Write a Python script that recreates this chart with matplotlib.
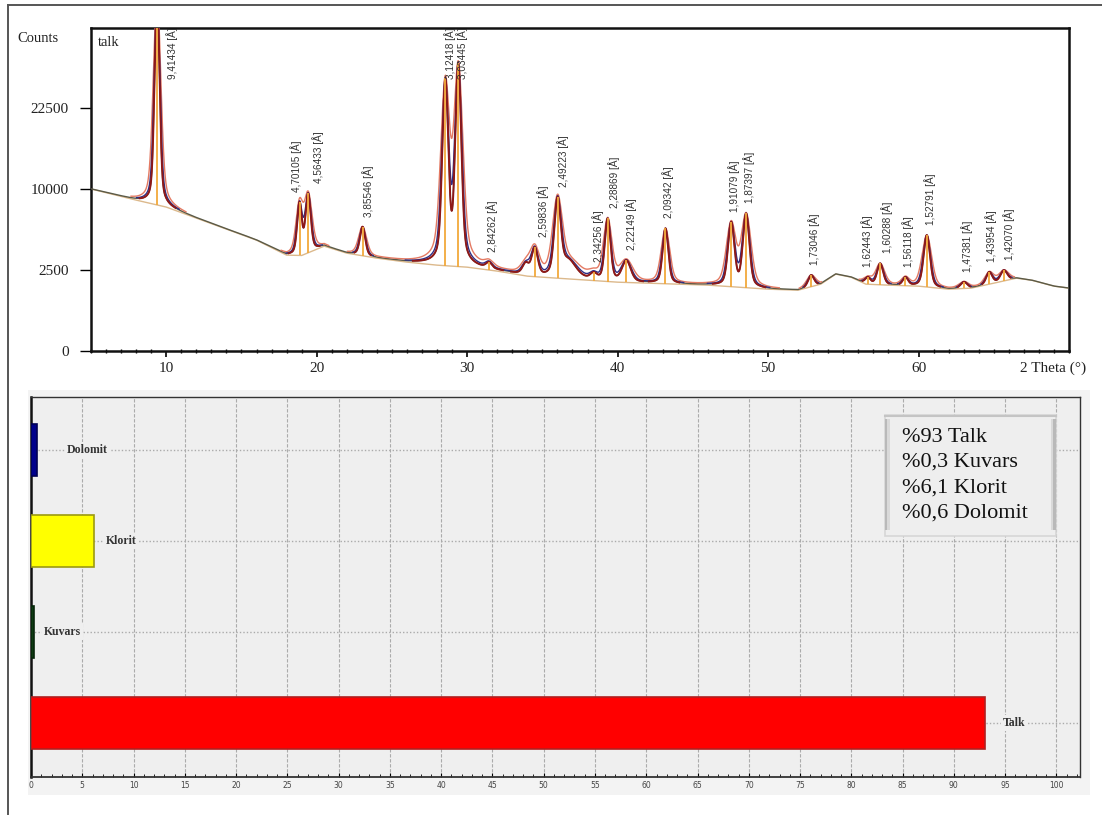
import numpy as np
import matplotlib
matplotlib.use('Agg')
import matplotlib.pyplot as plt
from matplotlib.patches import Rectangle
from matplotlib.lines import Line2D
from matplotlib.ticker import MultipleLocator, FixedLocator

# ---------------- data: XRD pattern (top panel) ----------------
bg_theta = [5, 8, 10, 12, 14, 16, 18, 19, 20.5, 22, 24, 26, 28, 30, 32, 34, 36, 38,
            40, 42, 44, 46, 48, 50, 52, 53.5, 54.5, 55.5, 56.5, 58, 60, 62, 63.5, 65,
            66.5, 67.5, 69, 70]
bg_counts = [9950, 8630, 7850, 6690, 5625, 4650, 3475, 3450, 4160, 3620, 3260, 2985,
             2785, 2655, 2410, 2115, 2000, 1893, 1787, 1735, 1685, 1635, 1537, 1440,
             1394, 1685, 2230, 2060, 1685, 1635, 1585, 1440, 1490, 1735, 2000, 1893,
             1585, 1490]

peak_theta = [9.39, 18.86, 19.43, 23.05, 28.55, 29.41, 31.45, 33.90, 34.49, 36.01, 36.70,
              38.40, 39.34, 40.58, 43.18, 47.55, 48.54, 52.86, 56.62, 57.45, 59.13,
              60.55, 63.02, 64.70, 65.67]
peak_top = [48000, 8440, 9450, 5840, 28230, 31430, 3005, 3000, 4100, 9010, 3300,
            2365, 6660, 3120, 5690, 6320, 7170, 2172, 2075, 2896, 2070,
            5080, 1805, 2365, 2470]
peak_fwhm = [0.34, 0.34, 0.38, 0.40, 0.40, 0.40, 0.45, 0.50, 0.45, 0.45, 1.20,
             0.50, 0.40, 0.65, 0.40, 0.45, 0.45, 0.45, 0.40, 0.45, 0.40,
             0.45, 0.50, 0.45, 0.50]
peak_labels = ["9,41434 [Å]", "4,70105 [Å]", "4,56433 [Å]", "3,85546 [Å]", "3,12418 [Å]",
               "3,03445 [Å]", "2,84262 [Å]", "", "2,59836 [Å]", "2,49223 [Å]", "",
               "2,34256 [Å]", "2,28869 [Å]", "2,22149 [Å]", "2,09342 [Å]", "1,91079 [Å]",
               "1,87397 [Å]", "1,73046 [Å]", "1,62443 [Å]", "1,60288 [Å]", "1,56118 [Å]",
               "1,52791 [Å]", "1,47381 [Å]", "1,43954 [Å]", "1,42070 [Å]"]
yticks_counts = [0, 2500, 10000, 22500]
xticks_theta = [10, 20, 30, 40, 50, 60]

# ---------------- data: phase amounts (bottom panel) ----------------
phases = ["Talk", "Kuvars", "Klorit", "Dolomit"]
percent = [93, 0.3, 6.1, 0.6]

# ---------------- styles ----------------
label_dx_px = [15, -3, 10, 5, 5, 4, 3, 0, 8, 5, 0, 5, 6, 5, 3, 3, 3, 3, -1, 7, 3, 3, 3, 2, 5]
bar_face = ["#ff0000", "#0d3b12", "#ffff00", "#00008b"]
bar_edge = ["#b02020", "#06260a", "#9c9a10", "#000055"]
label_offset_px = [18, 10, 12, 30]
SERIF = "Liberation Serif"
SANS = "Liberation Sans"

fig = plt.figure(figsize=(11.02, 8.21), dpi=100)
W, H = 1102.0, 821.0


def fx(px):
    return px / W


def fy(py):
    return 1 - py / H


# outer border (top + left)
fig.add_artist(Line2D([fx(8), 1.0], [fy(5), fy(5)], color="#555555", lw=1.4))
fig.add_artist(Line2D([fx(8), fx(8)], [fy(5), fy(814)], color="#555555", lw=1.4))

# ================= top: diffraction pattern =================
ax = fig.add_axes([fx(91), fy(350.7), fx(1069) - fx(91), fy(28.5) - fy(350.7)])
ax.set_yscale('function', functions=(lambda v: np.sqrt(np.clip(v, 0, None)),
                                     lambda v: np.square(v)))

pt = np.array(peak_theta)
ptop = np.array(peak_top, float)
pw = np.array(peak_fwhm)
ETA = 0.35


def pv(x, x0, fwhm, eta=ETA):
    hw = fwhm / 2.0
    u = (x - x0) / hw
    return eta / (1 + u ** 2) + (1 - eta) * np.exp(-np.log(2) * u ** 2)


bg_at_peaks = np.interp(pt, bg_theta, bg_counts)
M = pv(pt[:, None], pt[None, :], pw[None, :])
amps = np.linalg.solve(M, ptop - bg_at_peaks)

x = np.arange(5, 70.0001, 0.01)
bgx = np.interp(x, bg_theta, bg_counts)


def profile(scale):
    return (amps[None, :] * pv(x[:, None], pt[None, :], pw[None, :] * scale)).sum(axis=1)


p_main = profile(1.0)
p_blue = profile(1.18)
p_salm = profile(1.5)


def masked(p):
    y = bgx + p
    return np.where(p > 0.03 * bgx + 40, y, np.nan)


ax.plot(bg_theta, bg_counts, color="#dcb98c", lw=1.0, zorder=2)
ax.plot(x, bgx + p_main, color="#5a5a48", lw=1.0, zorder=3)
ax.plot(x, masked(p_salm), color="#e47a63", lw=1.0, zorder=4)
ax.plot(x, masked(p_blue), color="#2e2e86", lw=1.0, zorder=5)
ax.plot(x, masked(p_main), color="#8e1818", lw=1.4, zorder=6)

for t, top, b, lab, dx in zip(pt, ptop, bg_at_peaks, peak_labels, label_dx_px):
    if not lab:
        continue
    ax.vlines(t, b, top, color="#f2a93b", lw=1.3, zorder=7)
    ax.annotate(lab, xy=(t, min(top, 26000)), xytext=(dx * 0.72, 7.2),
                textcoords="offset points", rotation=90, ha="center", va="bottom",
                fontsize=7.2, family=SANS, color="#333333", annotation_clip=False,
                zorder=8)

ax.set_xlim(5, 70)
ax.set_ylim(0, 39500)
ax.yaxis.set_major_locator(FixedLocator(yticks_counts))
ax.set_yticklabels([str(v) for v in yticks_counts])
ax.xaxis.set_major_locator(FixedLocator(xticks_theta))
ax.xaxis.set_minor_locator(MultipleLocator(1))
ax.yaxis.set_minor_locator(FixedLocator([]))
for s in ax.spines.values():
    s.set_linewidth(1.8)
    s.set_color("#111111")
ax.tick_params(axis="y", which="major", direction="out", length=8, width=1.0, pad=8,
               labelsize=11, labelcolor="#222222")
ax.tick_params(axis="x", which="major", direction="out", length=4, width=1.2, pad=4,
               labelsize=11, labelcolor="#222222")
ax.tick_params(axis="x", which="minor", direction="inout", length=3, width=1.0)
for lbl in ax.get_xticklabels() + ax.get_yticklabels():
    lbl.set_family(SERIF)

fig.text(fx(17), fy(38), "Counts", fontsize=10.5, family=SERIF, color="#222222",
         ha="left", va="center")
ax.text(0.007, 0.955, "talk", transform=ax.transAxes, fontsize=10.5, family=SERIF,
        color="#222222", ha="left", va="center")
fig.text(fx(1053), fy(368), "2 Theta (°)", fontsize=11, family=SERIF, color="#222222",
         ha="center", va="center")

# ================= bottom: phase amounts =================
fig.add_artist(Rectangle((fx(28), fy(795)), fx(1090) - fx(28), fy(390) - fy(795),
                         transform=fig.transFigure, facecolor="#f3f3f3",
                         edgecolor="none", zorder=0))
bx = fig.add_axes([fx(31), fy(777), fx(1080) - fx(31), fy(397) - fy(777)])
bx.set_facecolor("#efefef")
ypos = np.arange(len(phases))
bx.barh(ypos, percent, height=0.57, color=bar_face, edgecolor=bar_edge, lw=1.2, zorder=3)
bx.set_xlim(0, 102.3)
bx.set_ylim(-0.59, 3.58)
bx.set_yticks([])
bx.xaxis.set_major_locator(MultipleLocator(5))
bx.xaxis.set_minor_locator(MultipleLocator(1))
bx.grid(axis="x", which="major", color="#ababab", lw=0.8, linestyle=(0, (3, 1.5)), zorder=1)
for yv in ypos:
    bx.axhline(yv, color="#ababab", lw=1.0, linestyle=(0, (1, 1.5)), zorder=1)
bx.tick_params(axis="x", which="major", direction="in", length=3, width=0.8, pad=3,
               labelsize=5.5, labelcolor="#444444")
bx.tick_params(axis="x", which="minor", direction="in", length=2, width=0.6)
for s in bx.spines.values():
    s.set_linewidth(1.0)
    s.set_color("#333333")
bx.spines["left"].set_linewidth(1.8)
bx.spines["left"].set_color("#111111")
bx.spines["bottom"].set_linewidth(1.3)

for yv, v, name, off in zip(ypos, percent, phases, label_offset_px):
    bx.annotate(name, xy=(v, yv), xytext=(off * 0.72, 0), textcoords="offset points",
                ha="left", va="center", fontsize=8.5, family=SERIF, weight="bold",
                color="#333333", zorder=4,
                bbox=dict(boxstyle="square,pad=0.15", fc="#efefef", ec="none"))

# legend-like text box with bevelled edges
bl, br, bt, bb = 884.5, 1055.5, 415, 536
fig.add_artist(Rectangle((fx(bl), fy(bb)), fx(br) - fx(bl), fy(bt) - fy(bb),
                         transform=fig.transFigure, facecolor="#eeeeee",
                         edgecolor="#d6d6d6", lw=1.2, zorder=5))
for x0, x1, col in [(bl, bl + 2.5, "#b9b9b9"), (bl + 2.5, bl + 5, "#d9d9d9"),
                    (br - 5, br - 2.5, "#d9d9d9"), (br - 2.5, br, "#b9b9b9")]:
    fig.add_artist(Rectangle((fx(x0), fy(bb - 6)), fx(x1) - fx(x0), fy(bt + 4) - fy(bb - 6),
                             transform=fig.transFigure, facecolor=col,
                             edgecolor="none", zorder=5.5))
fig.add_artist(Line2D([fx(bl), fx(br)], [fy(bt + 1), fy(bt + 1)], color="#c4c4c4",
                      lw=1.5, zorder=5.6))
for i, (name, v) in enumerate(zip(phases, percent)):
    txt = "%" + ("%g" % v).replace(".", ",") + " " + name
    fig.text(fx(902), fy(437 + 25.5 * i), txt, fontsize=16, family=SERIF,
             color="#111111", ha="left", va="center", zorder=6)

fig.savefig("out.png", dpi=100)
